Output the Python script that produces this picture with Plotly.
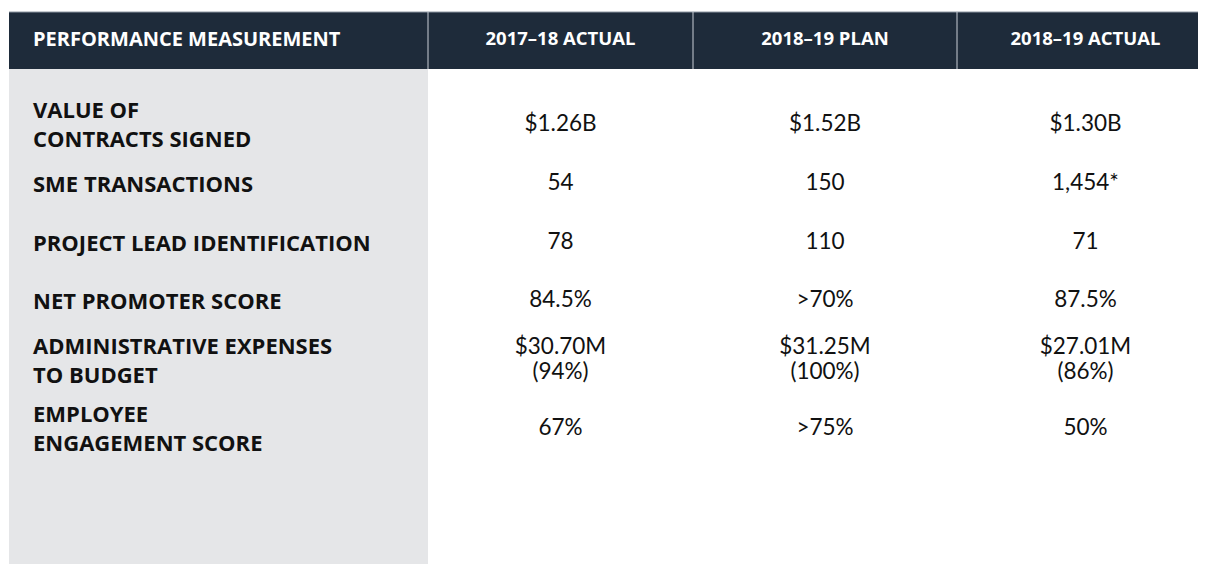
import plotly.graph_objects as go

# ---------------- data ----------------
headers = ["PERFORMANCE MEASUREMENT", "2017–18 ACTUAL", "2018–19 PLAN", "2018–19 ACTUAL"]
measures = [
    "VALUE OF<br>CONTRACTS SIGNED",
    "SME TRANSACTIONS",
    "PROJECT LEAD IDENTIFICATION",
    "NET PROMOTER SCORE",
    "ADMINISTRATIVE EXPENSES<br>TO BUDGET",
    "EMPLOYEE<br>ENGAGEMENT SCORE",
]
actual_2017_18 = ["$1.26B", "54", "78", "84.5%", "$30.70M<br>(94%)", "67%"]
plan_2018_19 = ["$1.52B", "150", "110", ">70%", "$31.25M<br>(100%)", ">75%"]
actual_2018_19 = ["$1.30B", "1,454*", "71", "87.5%", "$27.01M<br>(86%)", "50%"]

# ---------------- layout constants ----------------
W, H = 1206, 564
col_edges = [1, 420, 685, 949, 1206]
header_top, header_bot = 4, 61
row_centers = [117, 176, 235, 293, 353, 421]
label_dy = 2
label_x = 25
VALUE_GAP = 25.5

NAVY = "#1e2b3a"
GREY = "#e5e6e8"
TXT = "#111111"
LABEL_FONT = "Open Sans"
VALUE_FONT = "Lato"

col_centers = [(col_edges[i] + col_edges[i + 1]) / 2 for i in range(len(col_edges) - 1)]
header_y = (header_top + header_bot) / 2


def split_lines(texts, centers, gap, dy=0):
    """Split '<br>' texts into separate lines stacked around each row centre."""
    ys, ts = [], []
    for t, c in zip(texts, centers):
        parts = t.split("<br>")
        n = len(parts)
        for i, p in enumerate(parts):
            ys.append(c + dy + (i - (n - 1) / 2) * gap)
            ts.append(p)
    return ys, ts


fig = go.Figure()

shapes = [
    dict(type="rect", xref="x", yref="y", x0=col_edges[0], x1=col_edges[-1],
         y0=header_top, y1=header_bot, fillcolor=NAVY, line=dict(width=0), layer="below"),
    dict(type="rect", xref="x", yref="y", x0=col_edges[0], x1=col_edges[1],
         y0=header_bot, y1=H, fillcolor=GREY, line=dict(width=0), layer="below"),
    dict(type="line", xref="x", yref="y", x0=col_edges[0], x1=col_edges[-1],
         y0=header_top, y1=header_top, line=dict(color="#8c96a1", width=1)),
]
for xe in col_edges[1:-1]:
    shapes.append(dict(type="line", xref="x", yref="y", x0=xe, x1=xe,
                       y0=header_top, y1=header_bot, line=dict(color="#c9cfd6", width=1)))

# header text
fig.add_trace(go.Scatter(
    x=[label_x], y=[header_y], mode="text", text=[headers[0]],
    textposition="middle right",
    textfont=dict(family=LABEL_FONT, size=20, color="white", weight="bold"),
    hoverinfo="skip", showlegend=False))
fig.add_trace(go.Scatter(
    x=col_centers[1:], y=[header_y] * 3, mode="text", text=headers[1:],
    textposition="middle center",
    textfont=dict(family=LABEL_FONT, size=18.5, color="white", weight="bold"),
    hoverinfo="skip", showlegend=False))

# row labels (multi-line labels kept as single text blocks)
fig.add_trace(go.Scatter(
    x=[label_x] * len(measures), y=[c + label_dy for c in row_centers],
    mode="text", text=measures,
    textposition="middle right",
    textfont=dict(family=LABEL_FONT, size=22, color=TXT, weight="bold"),
    hoverinfo="skip", showlegend=False))

# values
for ci, col in enumerate([actual_2017_18, plan_2018_19, actual_2018_19]):
    vy, vt = split_lines(col, row_centers, VALUE_GAP)
    fig.add_trace(go.Scatter(
        x=[col_centers[ci + 1]] * len(vt), y=vy, mode="text", text=vt,
        textposition="middle center",
        textfont=dict(family=VALUE_FONT, size=22.5, color=TXT),
        hoverinfo="skip", showlegend=False))

fig.update_layout(
    width=W, height=H,
    margin=dict(l=0, r=0, t=0, b=0),
    paper_bgcolor="white", plot_bgcolor="white",
    shapes=shapes,
    xaxis=dict(range=[0, W], visible=False, fixedrange=True),
    yaxis=dict(range=[H, 0], visible=False, fixedrange=True),
)

fig.write_html("out.html")
